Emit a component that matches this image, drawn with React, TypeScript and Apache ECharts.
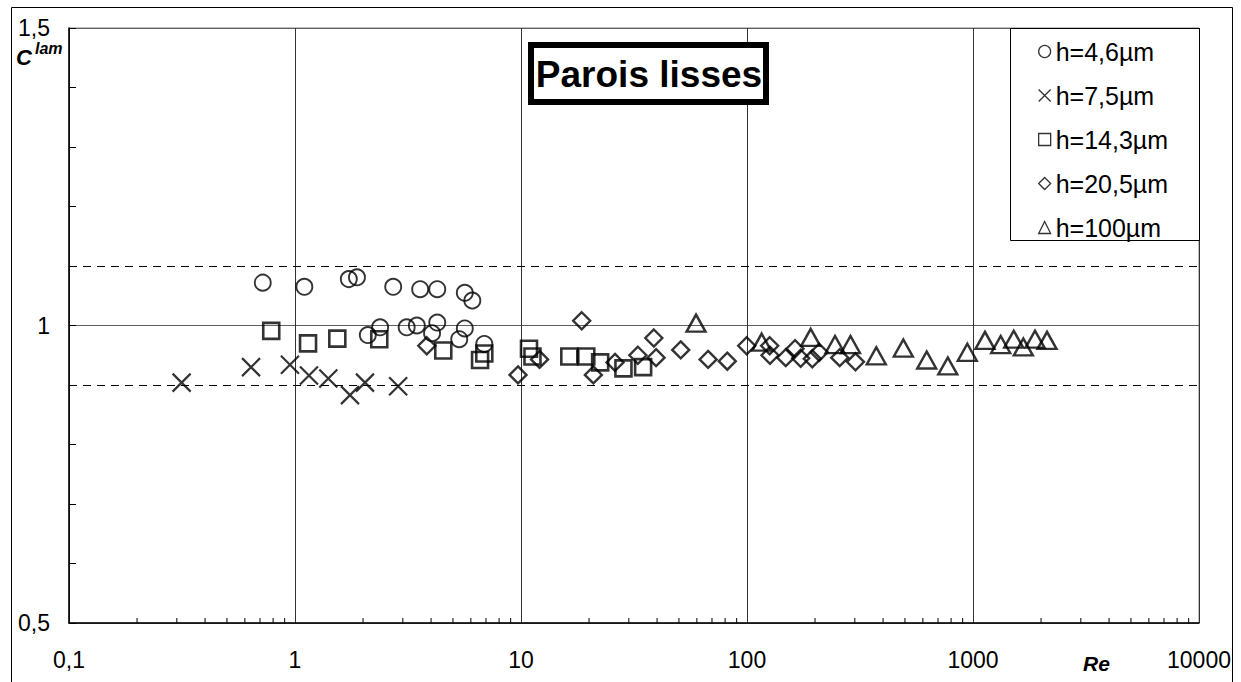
import React, { useEffect, useRef } from "react";
import * as echarts from "echarts";

const FONT = "'Liberation Sans', Arial, sans-serif";

const seriesNames = ["h=4,6µm", "h=7,5µm", "h=14,3µm", "h=20,5µm", "h=100µm"];

const xTickLabels = ["0,1", "1", "10", "100", "1000", "10000"];

const h46: number[][] = [
  [0.72, 1.072], [1.1, 1.065], [1.73, 1.078], [1.88, 1.081], [2.72, 1.065],
  [3.58, 1.061], [4.26, 1.061], [5.64, 1.055], [6.09, 1.042], [2.1, 0.984],
  [2.38, 0.997], [3.12, 0.997], [3.46, 1.0], [4.26, 1.005], [4.04, 0.987],
  [5.64, 0.995], [5.33, 0.977], [6.88, 0.969],
];

const h75: number[][] = [
  [0.315, 0.904], [0.639, 0.93], [0.95, 0.934], [1.153, 0.916], [1.404, 0.911],
  [1.751, 0.883], [2.04, 0.904], [2.86, 0.898],
];

const h143: number[][] = [
  [0.785, 0.991], [1.142, 0.97], [1.539, 0.978], [2.36, 0.977], [4.53, 0.958],
  [6.88, 0.953], [6.59, 0.942], [10.85, 0.961], [11.24, 0.948], [16.36, 0.948],
  [19.45, 0.948], [22.4, 0.938], [28.4, 0.928], [34.7, 0.93],
];

const h205: number[][] = [
  [3.83, 0.966], [9.7, 0.917], [12.08, 0.943], [18.56, 1.008], [20.9, 0.917],
  [26.06, 0.938], [32.9, 0.95], [38.7, 0.979], [39.6, 0.946], [50.9, 0.959],
  [67.3, 0.943], [81.8, 0.94], [99.7, 0.966], [126, 0.966], [126.4, 0.95],
  [148.4, 0.946], [163.1, 0.961], [172.8, 0.945], [194.5, 0.944], [208.7, 0.955],
  [257.2, 0.946], [302, 0.939],
];

const h100: number[][] = [
  [59.5, 1.004], [116.1, 0.972], [191.4, 0.98], [245.2, 0.968], [287, 0.968],
  [373.4, 0.949], [491.6, 0.962], [624, 0.942], [773.6, 0.932], [943.6, 0.955],
  [1130, 0.975], [1326, 0.968], [1514, 0.977], [1670, 0.964], [1881, 0.977],
  [2126, 0.975],
];

const dashedLevels = [1.1, 0.9];

const minorTickValues = [
  0.2, 0.3, 0.4, 0.5, 0.6, 0.7, 0.8, 0.9,
  2, 3, 4, 5, 6, 7, 8, 9,
  20, 30, 40, 50, 60, 70, 80, 90,
  200, 300, 400, 500, 600, 700, 800, 900,
  2000, 3000, 4000, 5000, 6000, 7000, 8000, 9000,
];

const CROSS = "path://M0,0L10,10M10,0L0,10";

export default function App() {
  const ref = useRef<HTMLDivElement>(null);
  useEffect(() => {
    if (!ref.current) return;
    const chart = echarts.init(ref.current, null, { renderer: "svg" });
    const markerStyle = (w: number) => ({
      color: "transparent",
      borderColor: "#000",
      borderWidth: w,
    });
    const common = {
      type: "scatter" as const,
      emphasis: { disabled: true },
      silent: true,
    };
    chart.setOption({
      animation: false,
      backgroundColor: "#fff",
      grid: {
        left: 69,
        top: 28,
        right: 42,
        bottom: 59,
        show: true,
        borderColor: "#808080",
        borderWidth: 1,
      },
      xAxis: {
        type: "log",
        logBase: 10,
        min: 0.1,
        max: 10000,
        axisLine: { show: true, lineStyle: { color: "#000", width: 1.5 } },
        axisTick: { show: false },
        splitLine: { show: true, lineStyle: { color: "#333", width: 1 } },
        axisLabel: {
          fontSize: 23,
          fontFamily: FONT,
          color: "#000",
          margin: 25,
          formatter: (v: number) => xTickLabels[Math.round(Math.log10(v)) + 1],
        },
      },
      yAxis: {
        type: "value",
        min: 0.5,
        max: 1.5,
        interval: 0.5,
        axisLine: { show: true, lineStyle: { color: "#000", width: 1.5 } },
        axisTick: { show: true, inside: true, length: 7, lineStyle: { color: "#000" } },
        minorTick: { show: true, splitNumber: 5, length: 7, lineStyle: { color: "#000" } },
        splitLine: { show: true, lineStyle: { color: "#606060", width: 1 } },
        axisLabel: {
          fontSize: 23,
          fontFamily: FONT,
          color: "#000",
          margin: 19,
          formatter: (v: number) => (v === 1 ? "1" : v.toFixed(1).replace(".", ",")),
        },
      },
      legend: {
        orient: "vertical",
        left: 1038,
        top: 39,
        padding: 0,
        itemWidth: 12,
        itemHeight: 12,
        itemGap: 19,
        data: seriesNames,
        textStyle: { fontSize: 25, fontFamily: FONT, color: "#000", lineHeight: 25 },
        itemStyle: { color: "transparent", borderColor: "#000", borderWidth: 1.3 },
        selectedMode: false,
        z: 6,
      },
      graphic: [
        {
          type: "rect",
          z: 5,
          shape: { x: 1010.5, y: 28.5, width: 189, height: 212 },
          style: { fill: "#fff", stroke: "#000", lineWidth: 1 },
        },
        {
          type: "rect",
          z: 5,
          shape: { x: 531, y: 45, width: 235, height: 57 },
          style: { fill: "#fff", stroke: "#000", lineWidth: 6 },
        },
        {
          type: "text",
          z: 6,
          style: {
            x: 649,
            y: 74,
            text: "Parois lisses",
            font: `bold 37px ${FONT}`,
            fill: "#000",
            textAlign: "center",
            textVerticalAlign: "middle",
          },
        },
        {
          type: "text",
          z: 6,
          style: {
            x: 16,
            y: 57,
            text: "C",
            font: `italic bold 22px ${FONT}`,
            fill: "#000",
            textAlign: "left",
            textVerticalAlign: "middle",
          },
        },
        {
          type: "text",
          z: 6,
          style: {
            x: 35,
            y: 48,
            text: "lam",
            font: `italic bold 16px ${FONT}`,
            fill: "#000",
            textAlign: "left",
            textVerticalAlign: "middle",
          },
        },
        {
          type: "text",
          z: 6,
          style: {
            x: 1083,
            y: 663,
            text: "Re",
            font: `italic bold 21px ${FONT}`,
            fill: "#000",
            textAlign: "left",
            textVerticalAlign: "middle",
          },
        },
        {
          type: "rect",
          z: 10,
          shape: { x: 11.5, y: 7.5, width: 1221, height: 700 },
          style: { fill: "none", stroke: "#000", lineWidth: 1 },
        },
      ],
      series: [
        {
          ...common,
          name: seriesNames[0],
          symbol: "circle",
          symbolSize: 16,
          itemStyle: markerStyle(1.9),
          data: h46,
          markLine: {
            silent: true,
            symbol: "none",
            label: { show: false },
            lineStyle: { color: "#000", type: [8, 6], width: 1 },
            data: dashedLevels.map((v) => ({ yAxis: v })),
          },
        },
        {
          ...common,
          name: seriesNames[1],
          symbol: CROSS,
          symbolSize: 18,
          itemStyle: markerStyle(2.2),
          data: h75,
        },
        {
          ...common,
          name: seriesNames[2],
          symbol: "rect",
          symbolSize: 16,
          itemStyle: markerStyle(2.6),
          data: h143,
        },
        {
          ...common,
          name: seriesNames[3],
          symbol: "diamond",
          symbolSize: 17,
          itemStyle: markerStyle(2.4),
          data: h205,
        },
        {
          ...common,
          name: seriesNames[4],
          symbol: "triangle",
          symbolSize: [19, 17],
          itemStyle: markerStyle(2.4),
          data: h100,
        },
        {
          type: "custom",
          name: "minorTicks",
          silent: true,
          clip: false,
          data: minorTickValues.map((v) => [v, 0.5]),
          renderItem: (_p: any, api: any) => {
            const pt = api.coord([api.value(0), api.value(1)]);
            return {
              type: "line",
              shape: { x1: pt[0], y1: pt[1], x2: pt[0], y2: pt[1] - 5 },
              style: { stroke: "#000", lineWidth: 1 },
            };
          },
        },
      ],
    });
    return () => chart.dispose();
  }, []);
  return (
    <div
      ref={ref}
      style={{ position: "fixed", left: 0, top: 0, width: 1241, height: 682 }}
    />
  );
}
